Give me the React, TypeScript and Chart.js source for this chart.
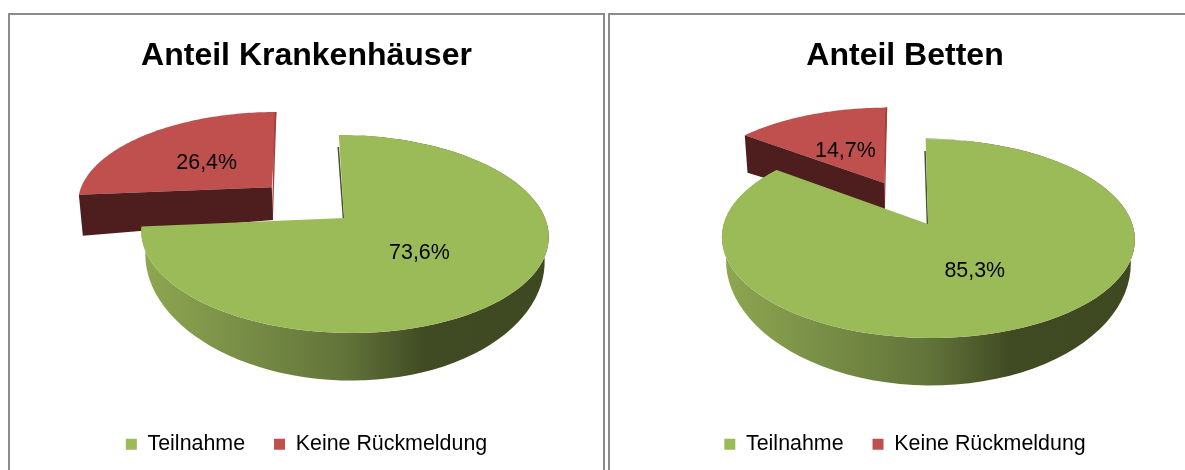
import React, { useEffect, useRef } from "react";
import { Chart, registerables } from "chart.js";

Chart.register(...registerables);

// ---- data ----
const categories = ["Teilnahme", "Keine Rückmeldung"];
const krankenhaeuserValues = [73.6, 26.4];
const bettenValues = [85.3, 14.7];
const titles = ["Anteil Krankenhäuser", "Anteil Betten"];

// ---- style ----
const GREEN = "#9bbb59";
const RED = "#bf504d";
const RED_WALL = "#4d1e1d";
const RED_EDGE = "#a1413e";
const GREEN_EDGE = "#46532a";
const FONT = "'Liberation Sans', Arial, sans-serif";
const EXPLODE = [0, 0.5];
const LABEL_RADIUS = [0.47, 0.5];
const LABEL_NUDGE = [3, 4];

type View = { cx: number; cy: number; rx: number; ry: number; k: number; sx: number };
const views: View[] = [
  { cx: 334, cy: 203, rx: 201, ry: 96.4, k: 0.1616, sx: 6 },
  { cx: 318, cy: 209, rx: 204.3, ry: 97.4, k: 0.146, sx: 2.7 },
];
const canvasWidths = [593, 590];

const makePlugin = (view: View) => {
  const project = (u: number, v: number) => {
    const w = 1 - view.k * v;
    return { x: view.cx + (view.rx * u + view.sx * v) / w, y: view.cy + (view.ry * v) / w };
  };
  const lower = (p: { x: number; y: number }, slice: number) => {
    const depth =
      slice === 0
        ? 20 + 0.24 * (p.y - view.cy)
        : 30 - 0.041 * (p.x - view.cx);
    return { x: view.cx + (p.x - view.cx) * (slice === 0 ? 0.98 : 0.985), y: p.y + depth };
  };
  const sample = (el: any, i: number) => {
    const mid = (el.startAngle + el.endAngle) / 2;
    const ox = Math.cos(mid) * EXPLODE[i];
    const oy = Math.sin(mid) * EXPLODE[i];
    const n = 90;
    const arc: { x: number; y: number }[] = [];
    for (let s = 0; s <= n; s++) {
      const a = el.startAngle + ((el.endAngle - el.startAngle) * s) / n;
      arc.push(project(ox + Math.cos(a), oy + Math.sin(a)));
    }
    return { arc, tip: project(ox, oy) };
  };
  const poly = (ctx: CanvasRenderingContext2D, pts: { x: number; y: number }[], fill: any) => {
    ctx.beginPath();
    pts.forEach((p, j) => (j ? ctx.lineTo(p.x, p.y) : ctx.moveTo(p.x, p.y)));
    ctx.closePath();
    ctx.fillStyle = fill;
    ctx.fill();
  };
  const line = (ctx: CanvasRenderingContext2D, a: any, b: any, color: string, width: number) => {
    ctx.beginPath();
    ctx.moveTo(a.x, a.y);
    ctx.lineTo(b.x, b.y);
    ctx.strokeStyle = color;
    ctx.lineWidth = width;
    ctx.stroke();
  };
  return {
    id: "pie3d",
    beforeDatasetDraw() {
      return false;
    },
    afterDatasetsDraw(chart: any) {
      const ctx: CanvasRenderingContext2D = chart.ctx;
      const arcs = chart.getDatasetMeta(0).data;
      const values: number[] = chart.data.datasets[0].data;
      ctx.save();
      // second slice (exploded, at the back)
      {
        const { arc, tip } = sample(arcs[1], 1);
        const first = arc[0];
        const last = arc[arc.length - 1];
        const lowTip = lower(tip, 1);
        poly(ctx, [tip, ...arc], RED);
        poly(ctx, [{ x: last.x - 2, y: last.y }, last, lowTip, { x: lowTip.x - 1, y: lowTip.y }], RED_EDGE);
        poly(ctx, [tip, first, lower(first, 1), lowTip], RED_WALL);
      }
      // first slice: wall, then top surface
      {
        const { arc, tip } = sample(arcs[0], 0);
        const bottom = arc.map((p) => lower(p, 0)).reverse();
        const g = ctx.createLinearGradient(view.cx - view.rx, 0, view.cx + view.rx, 0);
        g.addColorStop(0, "#8ea751");
        g.addColorStop(0.5, "#62743a");
        g.addColorStop(0.7, "#414b23");
        g.addColorStop(1, "#3f4921");
        poly(ctx, [...arc, ...bottom], g);
        line(ctx, { x: tip.x - 0.6, y: tip.y }, { x: arc[0].x - 0.6, y: arc[0].y + 12 }, GREEN_EDGE, 1.5);
        poly(ctx, [tip, ...arc], GREEN);
      }
      // data labels
      ctx.fillStyle = "#000";
      ctx.font = `21.4px ${FONT}`;
      ctx.textAlign = "center";
      ctx.textBaseline = "middle";
      arcs.forEach((el: any, i: number) => {
        const mid = (el.startAngle + el.endAngle) / 2;
        const r = LABEL_RADIUS[i] + EXPLODE[i];
        const p = project(Math.cos(mid) * r, Math.sin(mid) * r);
        ctx.fillText(values[i].toFixed(1).replace(".", ",") + "%", p.x, p.y + LABEL_NUDGE[i]);
      });
      ctx.restore();
    },
  };
};

const PieChart = ({ title, values, view, width }: { title: string; values: number[]; view: View; width: number }) => {
  const ref = useRef<HTMLCanvasElement>(null);
  useEffect(() => {
    const chart = new Chart(ref.current as HTMLCanvasElement, {
      type: "pie",
      data: {
        labels: categories,
        datasets: [{ data: values, backgroundColor: [GREEN, RED], borderWidth: 0 }],
      },
      options: {
        responsive: false,
        animation: false,
        plugins: {
          title: {
            display: true,
            text: title,
            color: "#000",
            font: { family: FONT, size: 32, weight: "bold" },
            padding: { top: 22, bottom: 10 },
          },
          legend: {
            position: "bottom",
            labels: {
              color: "#000",
              boxWidth: 11,
              boxHeight: 11,
              padding: 29,
              font: { family: FONT, size: 21.4 },
            },
          },
          tooltip: { enabled: false },
        },
      },
      plugins: [makePlugin(view)],
    } as any);
    return () => chart.destroy();
  }, []);
  return <canvas ref={ref} width={width} height={450} style={{ display: "block" }} />;
};

const frame = (left: number): React.CSSProperties => ({
  position: "absolute",
  left,
  top: 13,
  width: 593,
  height: 480,
  border: "2px solid #8c8c8c",
  background: "#fff",
  boxSizing: "content-box",
});

export default function App() {
  return (
    <div style={{ position: "fixed", left: 0, top: 0, width: 1185, height: 470, overflow: "hidden", background: "#fff" }}>
      <div style={frame(8)}>
        <PieChart title={titles[0]} values={krankenhaeuserValues} view={views[0]} width={canvasWidths[0]} />
      </div>
      <div style={frame(608)}>
        <PieChart title={titles[1]} values={bettenValues} view={views[1]} width={canvasWidths[1]} />
      </div>
    </div>
  );
}
